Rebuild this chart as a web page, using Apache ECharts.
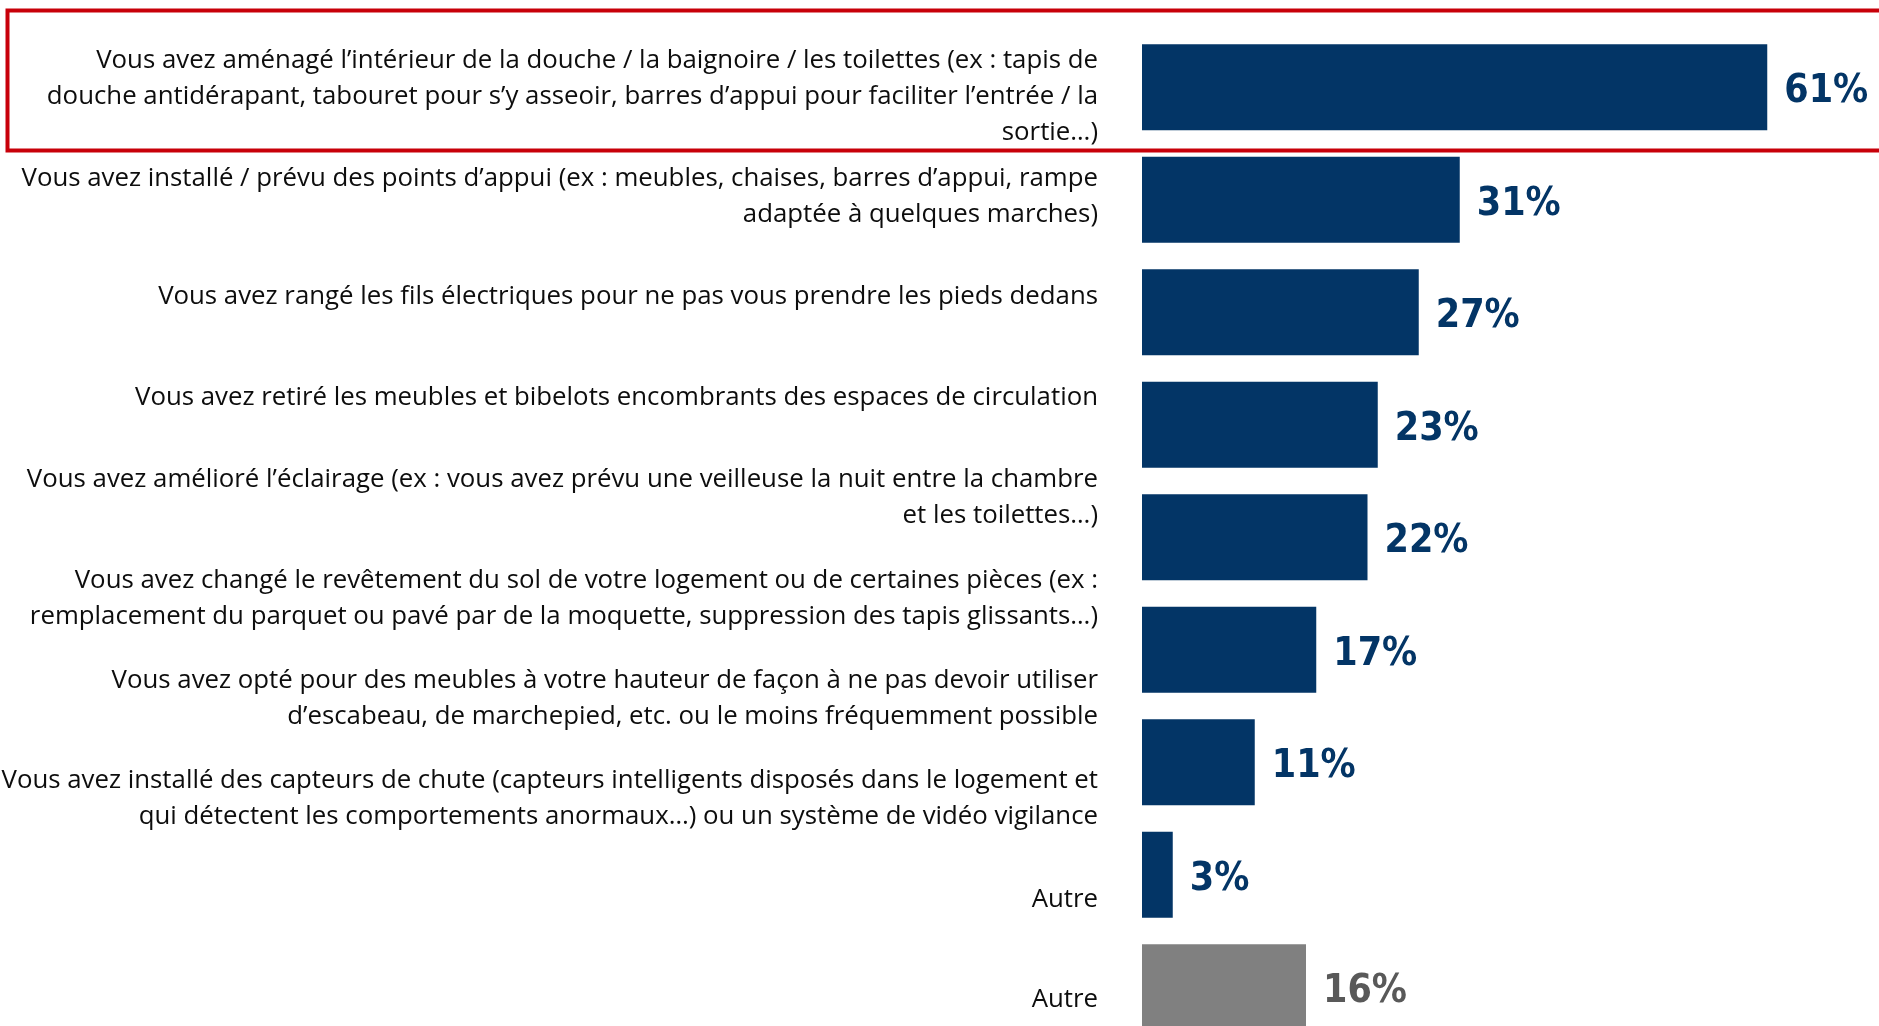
<!DOCTYPE html>
<html>
<head>
<meta charset="utf-8">
<script src="https://cdn.jsdelivr.net/npm/echarts@6/dist/echarts.min.js"></script>
<style>
  html, body { margin: 0; padding: 0; background: #fff; }
  #chart { width: 1879px; height: 1026px; }
</style>
</head>
<body>
<div id="chart"></div>
<script>
// libellés de la colonne de gauche (10 lignes de texte)
const categories = [
  'Vous avez aménagé l’intérieur de la douche / la baignoire / les toilettes (ex : tapis de\ndouche antidérapant, tabouret pour s’y asseoir, barres d’appui pour faciliter l’entrée / la\nsortie…)',
  'Vous avez installé / prévu des points d’appui (ex : meubles, chaises, barres d’appui, rampe\nadaptée à quelques marches)',
  'Vous avez rangé les fils électriques pour ne pas vous prendre les pieds dedans',
  'Vous avez retiré les meubles et bibelots encombrants des espaces de circulation',
  'Vous avez amélioré l’éclairage (ex : vous avez prévu une veilleuse la nuit entre la chambre\net les toilettes…)',
  'Vous avez changé le revêtement du sol de votre logement ou de certaines pièces (ex :\nremplacement du parquet ou pavé par de la moquette, suppression des tapis glissants…)',
  'Vous avez opté pour des meubles à votre hauteur de façon à ne pas devoir utiliser\nd’escabeau, de marchepied, etc. ou le moins fréquemment possible',
  'Vous avez installé des capteurs de chute (capteurs intelligents disposés dans le logement et\nqui détectent les comportements anormaux…) ou un système de vidéo vigilance',
  'Autre',
  'Autre'
]

// barres (en %)
const values = [61, 31, 27, 23, 22, 17, 11, 3, 16]
const barColors = ['#033566', '#033566', '#033566', '#033566', '#033566', '#033566', '#033566', '#033566', '#808080']
const labelColors = ['#033566', '#033566', '#033566', '#033566', '#033566', '#033566', '#033566', '#033566', '#595959']

const myChart = echarts.init(document.getElementById('chart'))
myChart.setOption({
  animation: false,
  grid: [
    { left: 1142, top: 31, width: 717.5, height: 1012.5, outerBoundsMode: 'none' }, // barres
    { left: 1108, top: 46, width: 10, height: 1004, outerBoundsMode: 'none' } // libellés
  ],
  xAxis: [
    { gridIndex: 0, type: 'value', min: 0, max: 70, show: false },
    { gridIndex: 1, type: 'value', min: 0, max: 1, show: false }
  ],
  yAxis: [
    {
      gridIndex: 0,
      type: 'category',
      inverse: true,
      data: values.map((v, i) => 'b' + i),
      axisLine: { show: false },
      axisTick: { show: false },
      axisLabel: { show: false }
    },
    {
      gridIndex: 1,
      type: 'category',
      inverse: true,
      data: categories,
      axisLine: { show: false },
      axisTick: { show: false },
      axisLabel: {
        margin: 10,
        color: '#0d0d0d',
        fontFamily: 'Open Sans',
        fontSize: 25.8,
        lineHeight: 36,
        align: 'right',
        interval: 0
      }
    }
  ],
  graphic: [{
    type: 'rect',
    shape: { x: 7.5, y: 10.5, width: 1900, height: 140 },
    style: { fill: 'none', stroke: '#c8000a', lineWidth: 4 },
    z: 10
  }],
  series: [{
    type: 'bar',
    xAxisIndex: 0,
    yAxisIndex: 0,
    barWidth: 86,
    data: values.map((v, i) => ({
      value: v,
      itemStyle: { color: barColors[i] },
      label: { color: labelColors[i] }
    })),
    label: {
      show: true,
      position: 'right',
      distance: 17,
      offset: [0, 5],
      formatter: '{c}%',
      fontFamily: '"Liberation Sans Narrow", "DejaVu Sans Condensed", sans-serif',
      fontWeight: 'bold',
      fontSize: 39
    }
  }]
})
</script>
</body>
</html>
